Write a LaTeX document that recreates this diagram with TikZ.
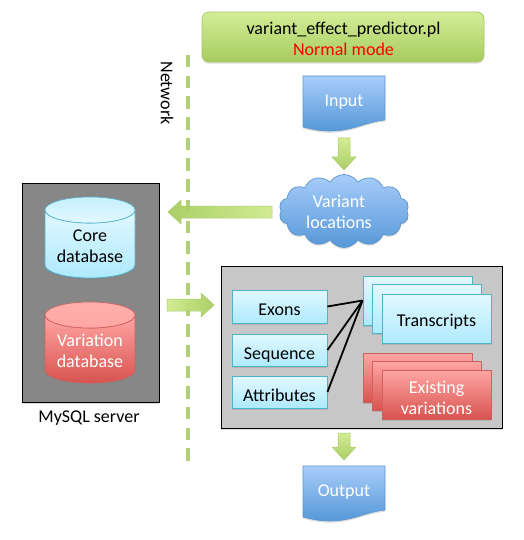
\documentclass[tikz,border=0pt]{standalone}
\usepackage{fontspec}
\setmainfont{Carlito}
\usetikzlibrary{calc,shapes.symbols,shadows}
\definecolor{gA}{HTML}{CFEB8C}
\definecolor{gB}{HTML}{A6CB5E}
\definecolor{gLine}{HTML}{B4CF7C}
\definecolor{gEdge}{HTML}{A9C86A}
\definecolor{bA}{HTML}{A8CDFA}
\definecolor{bB}{HTML}{5698D8}
\definecolor{bEdge}{HTML}{5C94CF}
\definecolor{cA}{HTML}{E2F8FF}
\definecolor{cB}{HTML}{AEEAFD}
\definecolor{cEdge}{HTML}{4FB3CC}
\definecolor{rA}{HTML}{FFA6A4}
\definecolor{rB}{HTML}{D8534F}
\definecolor{rEdge}{HTML}{D0605C}
\newcommand{\bodyfont}{\fontsize{18}{20.8}\selectfont}
\tikzset{
  x=1pt,y=-1pt,
  softshadow/.style={drop shadow={opacity=.28,shadow xshift=0pt,shadow yshift=-1.6pt}},
  lbl/.style={font=\bodyfont,align=center,text=#1,inner sep=0pt},
  lbl/.default=black,
  titlebox/.style={rounded corners=7pt,draw=gEdge,line width=.8pt,top color=gA!90!white,bottom color=gB,softshadow,
    minimum width=282pt,minimum height=50pt,inner sep=0pt},
  docfill/.style={draw=bEdge,line width=.6pt,top color=bA,bottom color=bB,softshadow},
  cloudbox/.style={cloud,cloud puffs=14,cloud puff arc=115,aspect=1.8,draw=bEdge,line width=.7pt,top color=bA,bottom color=bB,softshadow,
    minimum width=130pt,minimum height=73pt,inner sep=0pt},
  panel/.style={draw=black,line width=.8pt,fill=#1,softshadow,inner sep=0pt},
  cyanbox/.style={draw=cEdge,line width=.9pt,top color=cA,bottom color=cB,softshadow,inner sep=0pt},
  redbox/.style={draw=rEdge,line width=.9pt,top color=rA,bottom color=rB,softshadow,inner sep=0pt},
  cyanbody/.style={draw=cEdge,line width=.8pt,top color=cA,bottom color=cB,softshadow},
  cyantop/.style={draw=cEdge,line width=.6pt,top color=cB!55!cA,bottom color=cA},
  redbody/.style={draw=rEdge,line width=.8pt,top color=rA,bottom color=rB,softshadow},
  redtop/.style={draw=rEdge,line width=.6pt,top color=rA!90!white,bottom color=rA},
  link/.style={draw=black,line width=1.8pt},
  netline/.style={draw=gLine,line width=3.4pt,dash pattern=on 12.5pt off 8.2pt},
  fat/.style={draw=gEdge,line width=.5pt,opacity=.94},
}
% fat arrow from coordinate #2 to coordinate #3, shaded by #1
\newcommand{\fatarrow}[3]{%
  \path[fat,#1] ($(#2)!6pt!90:(#3)$)
    -- ($($(#3)!13pt!(#2)$)!6pt!90:(#3)$)
    -- ($($(#3)!13pt!(#2)$)!12pt!90:(#3)$)
    -- (#3)
    -- ($($(#3)!13pt!(#2)$)!12pt!-90:(#3)$)
    -- ($($(#3)!13pt!(#2)$)!6pt!-90:(#3)$)
    -- ($(#2)!6pt!-90:(#3)$) -- cycle;}
% document shape: left x, top y
\newcommand{\docpath}[2]{%
  \path[docfill] (#1,#2) -- (#1+82,#2) -- (#1+82,#2+44)
    .. controls (#1+62,#2+46) and (#1+50,#2+55) .. (#1+27,#2+55)
    .. controls (#1+16,#2+55) and (#1+8,#2+53) .. (#1,#2+51) -- cycle;}
% cylinder: left x, top y, body/top styles
\newcommand{\cylpath}[4]{%
  \path[#3] (#1,#2+13) -- (#1,#2+68)
    arc[start angle=180,end angle=360,x radius=45,y radius=-13]
    -- (#1+90,#2+13)
    arc[start angle=0,end angle=180,x radius=45,y radius=13] -- cycle;
  \path[#4] (#1+45,#2+13) ellipse[x radius=45,y radius=13];}
\begin{document}
\begin{tikzpicture}
\useasboundingbox (0,0) rectangle (523,540);

% network divider
\coordinate (netTop) at (188,55);
\coordinate (netBot) at (188,462);
\path[netline] (netTop) -- (netBot);
\node[lbl,rotate=-90] (network) at (167,93) {Network};

% top
\node[titlebox] (title) at (343,37) {};
\node[lbl] (titletext) at (343.5,39) {variant\_effect\_predictor.pl\\\textcolor{red}{Normal mode}};

% input
\docpath{303}{76}
\node[lbl=white] (input) at (344,102) {Input};

% cloud
\node[cloudbox] (cloud) at (344,211) {};
\node[lbl=white] (cloudtext) at (339,212) {Variant\\locations};

% mysql server
\node[panel=black!47,minimum width=137pt,minimum height=219pt] (server) at (90.5,292.5) {};
\cylpath{45}{197}{cyanbody}{cyantop}
\node[lbl] (core) at (90,246) {Core\\database};
\cylpath{45}{302}{redbody}{redtop}
\node[lbl=white] (vardb) at (90,351) {Variation\\database};
\node[lbl] (mysql) at (89,418) {MySQL server};

% right panel
\node[panel=black!22,minimum width=281pt,minimum height=162pt] (proc) at (361.5,347) {};
\node[cyanbox,minimum width=95pt,minimum height=33pt] (exons) at (279.5,306.5) {};
\node[lbl] (exonstext) at (279.5,310) {Exons};
\node[cyanbox,minimum width=95pt,minimum height=32pt] (seq) at (279.5,350) {};
\node[lbl] (seqtext) at (279.5,355) {Sequence};
\node[cyanbox,minimum width=95pt,minimum height=32pt] (attr) at (279.5,392) {};
\node[lbl] (attrtext) at (279.5,395) {Attributes};

\node[cyanbox,minimum width=109pt,minimum height=49pt] (t1) at (417.5,300.5) {};
\node[cyanbox,minimum width=109pt,minimum height=49pt] (t2) at (426.5,308.5) {};
\node[cyanbox,minimum width=109pt,minimum height=49pt] (t3) at (436.5,319) {};
\node[lbl] (t3text) at (436.5,322) {Transcripts};

\node[redbox,minimum width=109pt,minimum height=49pt] (e1) at (417.5,377.5) {};
\node[redbox,minimum width=109pt,minimum height=49pt] (e2) at (426.5,385.5) {};
\node[redbox,minimum width=109pt,minimum height=49pt] (e3) at (436.5,394.5) {};
\node[lbl=white] (e3text) at (436.5,397.5) {Existing\\variations};

\coordinate (hub) at (t1.west);
\path[link] (exons.east) -- (hub);
\path[link] (seq.east) -- (hub);
\path[link] (attr.east) -- (hub);

% output
\docpath{303}{466}
\node[lbl=white] (output) at (344,492.5) {Output};

% fat arrows
\coordinate (a1s) at (344,138);  \coordinate (a1e) at (344,170);
\coordinate (a2s) at (272,212);  \coordinate (a2e) at (168,212);
\coordinate (a3s) at (167,305);  \coordinate (a3e) at (214,305);
\coordinate (a4s) at (344,433);  \coordinate (a4e) at (344,460);
\fatarrow{top color=gA,bottom color=gB}{a1s}{a1e}
\fatarrow{left color=gB,right color=gA}{a2s}{a2e}
\fatarrow{left color=gA,right color=gB}{a3s}{a3e}
\fatarrow{top color=gA,bottom color=gB}{a4s}{a4e}
\end{tikzpicture}
\end{document}
